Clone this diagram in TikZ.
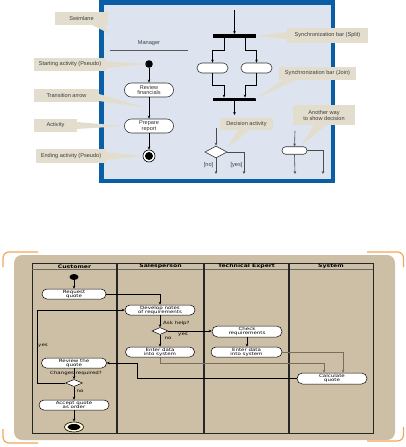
\documentclass[tikz,border=0pt]{standalone}
\usepackage{fontspec}
\setmainfont{Liberation Sans}
\newfontfamily\bfam[FakeStretch=1.28]{DejaVu Sans}
\usetikzlibrary{arrows.meta,shapes.geometric}
\definecolor{frameblue}{RGB}{10,94,166}
\definecolor{panelbg}{RGB}{221,228,240}
\definecolor{callbg}{RGB}{227,221,206}
\definecolor{calltxt}{RGB}{60,60,60}
\definecolor{tanbg}{RGB}{205,191,165}
\definecolor{bracket}{RGB}{242,166,90}
\definecolor{lgray}{RGB}{120,110,95}
\begin{document}
\begin{tikzpicture}[x=1pt,y=-1pt,
  >={Stealth[length=3pt,width=2.6pt]},
  callbox/.style={fill=callbg, inner sep=0, font=\fontsize{5.6}{6}\selectfont, text=calltxt, align=center},
  wedge/.style={fill=callbg},
  topact/.style={draw=black!80, fill=white, rounded corners=6.9pt, minimum width=49pt, minimum height=14pt, inner sep=0, font=\fontsize{5.6}{5.8}\selectfont, align=center, text=black!80, line width=0.6pt},
  smallact/.style={draw=black!80, fill=white, rounded corners=4.9pt, minimum width=31pt, minimum height=10pt, inner sep=0, line width=0.6pt},
  flow/.style={draw=black, line width=0.6pt, ->},
  gflow/.style={draw=black!70, line width=0.6pt, ->},
  bar/.style={fill=black, minimum width=43pt, minimum height=3.5pt, inner sep=0},
  toplab/.style={font=\fontsize{5.6}{6}\selectfont, text=black!75, inner sep=0},
  bact/.style={draw=black, fill=white, rounded corners=4.9pt, minimum height=10pt, inner sep=0, font=\bfam\fontsize{4.3}{4.2}\selectfont, align=center, line width=0.5pt},
  bflow/.style={draw=black, line width=0.7pt, ->},
  bgflow/.style={draw=lgray, line width=0.7pt, ->},
  lanesep/.style={draw=black!85, line width=1.1pt},
  hdr/.style={font=\bfam\bfseries\fontsize{4.8}{5}\selectfont, inner sep=0},
  blab/.style={font=\bfam\fontsize{4.3}{5}\selectfont, inner sep=0},
  bdiam/.style={diamond, draw=black, fill=white, line width=0.5pt, inner sep=0}
]
\useasboundingbox (0,0) rectangle (405,447);

% ================= TOP PANEL =================
\draw[frameblue, line width=4.5pt, fill=panelbg] (101.25,2.25) rectangle (332.75,180.75);

% Manager lane
\node[toplab] (mgr) at (149,43) {Manager};
\draw[black!65, line width=0.8pt] (110,50) -- (188,50);

% left flow
\node[circle, fill=black, minimum size=7.6pt, inner sep=0] (start) at (149,64) {};
\node[topact] (rev) at (149,90) {Review\\financials};
\node[topact] (prep) at (149,126) {Prepare\\report};
\node[circle, draw=black, fill=white, minimum size=12pt, inner sep=0, line width=0.6pt] (endo) at (149,156) {};
\node[circle, fill=black, minimum size=8pt, inner sep=0] (endi) at (149,156) {};
\draw[flow] (start) -- (rev);
\draw[flow] (rev) -- (prep);
\draw[flow] (prep) -- (endo);

% fork / join
\coordinate (forkin) at (234.5,10);
\node[bar] (split) at (234.5,36) {};
\node[smallact] (fa) at (212.5,68) {};
\node[smallact] (fb) at (256.5,68) {};
\node[bar] (join) at (234.5,99.5) {};
\coordinate (joinout) at (234.5,115);
\draw[flow] (forkin) -- (split.north);
\draw[flow] ([xshift=-10.5pt]split.south) -- ++(0,12) -| (fa.north);
\draw[flow] ([xshift=10.5pt]split.south) -- ++(0,12) -| (fb.north);
\draw[flow] (fa.south) -- ++(0,12) -| ([xshift=-10.5pt]join.north);
\draw[flow] (fb.south) -- ++(0,12) -| ([xshift=10.5pt]join.north);
\draw[flow] (join.south) -- (joinout);

% decision
\coordinate (decin) at (216,128);
\node[diamond, draw=black!80, fill=white, line width=0.6pt, minimum width=22pt, minimum height=12pt, inner sep=0] (dec) at (216,152) {};
\coordinate (decno) at (216,174);
\coordinate (decyes) at (244,174);
\draw[gflow] (decin) -- (dec.north);
\draw[gflow] (dec.south) -- (decno);
\draw[gflow] (dec.east) -| (decyes);
\node[toplab] (lno) at (208.5,165.5) {[no]};
\node[toplab] (lyes) at (236.5,165.5) {[yes]};

% another way
\coordinate (awin) at (295,131);
\node[draw=black!80, fill=white, rounded corners=3.6pt, minimum width=25pt, minimum height=7.5pt, inner sep=0, line width=0.6pt] (aw) at (294.5,150.5) {};
\coordinate (awdown) at (295,174);
\coordinate (awright) at (323,174);
\draw[gflow] (awin) -- (aw.north);
\draw[gflow] (aw.south) -- (awdown);
\draw[gflow] (aw.east) -| (awright);

% callouts (wedges then boxes)
\fill[wedge] (92,25) -- (104,25) -- (110,34) -- cycle;
\fill[wedge] (106,61) -- (106,68) -- (147,64) -- cycle;
\fill[wedge] (99,94) -- (99,101) -- (147,108) -- cycle;
\fill[wedge] (77,122) -- (77,129) -- (124,126) -- cycle;
\fill[wedge] (106,152) -- (106,160) -- (143,156) -- cycle;
\fill[wedge] (287,32) -- (287,39) -- (256,36) -- cycle;
\fill[wedge] (283,80) -- (296,80) -- (255,99) -- cycle;
\fill[wedge] (238,130) -- (250,130) -- (227,148) -- cycle;
\fill[wedge] (314,125) -- (326,125) -- (301,146) -- cycle;

\node[callbox, minimum width=53pt, minimum height=13pt] (cSwim) at (81.5,18.5) {Swimlane};
\node[callbox, minimum width=72pt, minimum height=13pt] (cStart) at (70,64.5) {Starting activity (Pseudo)};
\node[callbox, minimum width=65pt, minimum height=13pt] (cTrans) at (66.5,95.5) {Transition arrow};
\node[callbox, minimum width=43pt, minimum height=13pt] (cAct) at (55.5,125.5) {Activity};
\node[callbox, minimum width=70pt, minimum height=14pt] (cEnd) at (71,156) {Ending activity (Pseudo)};
\node[callbox, minimum width=81pt, minimum height=15pt] (cSplit) at (327.5,35.5) {Synchronization bar (Split)};
\node[callbox, minimum width=77pt, minimum height=13pt] (cJoin) at (317.5,73.5) {Synchronization bar (Join)};
\node[callbox, minimum width=53pt, minimum height=12pt] (cDec) at (246.5,124) {Decision activity};
\node[callbox, minimum width=62pt, minimum height=20pt] (cAnother) at (324,115) {Another way\\to show decision};

% ================= BOTTOM PANEL =================
\draw[bracket, line width=1.2pt, rounded corners=6pt] (38,252) -- (3,252) -- (3,267);
\draw[bracket, line width=1.2pt, rounded corners=6pt] (3,429) -- (3,443) -- (38,443);
\draw[bracket, line width=1.2pt, rounded corners=6pt] (367,252) -- (403.5,252) -- (403.5,267);
\draw[bracket, line width=1.2pt, rounded corners=6pt] (403.5,427) -- (403.5,441) -- (367,441);

\fill[tanbg, rounded corners=8pt] (14,255) rectangle (395,440);

% table
\draw[black!85, line width=0.9pt] (32,263) rectangle (373,433);
\draw[black!60, line width=0.5pt] (32,269.5) -- (373,269.5);
\draw[lanesep] (117,263) -- (117,433);
\draw[lanesep] (204,263) -- (204,433);
\draw[lanesep] (289,263) -- (289,433);
\node[hdr] (hCust) at (74.5,266.5) {Customer};
\node[hdr] (hSales) at (160.5,266.5) {Salesperson};
\node[hdr] (hTech) at (246.5,266.5) {Technical Expert};
\node[hdr] (hSys) at (331,266.5) {System};

% nodes
\node[ellipse, fill=black, minimum width=9pt, minimum height=6pt, inner sep=0] (bstart) at (74,277) {};
\node[bact, minimum width=64pt] (reqq) at (74,294) {Request\\quote};
\node[bact, minimum width=70pt] (dev) at (160,310) {Develop notes\\of requirements};
\node[bdiam, minimum width=16pt, minimum height=7pt] (d1) at (160,331) {};
\node[bact, minimum width=69pt] (ent1) at (160,352) {Enter data\\into system};
\node[bact, minimum width=70pt, minimum height=11pt, rounded corners=5.4pt] (chk) at (247,331.5) {Check\\requirements};
\node[bact, minimum width=71pt] (ent2) at (246.5,352) {Enter data\\into system};
\node[bact, minimum width=70pt, minimum height=11pt, rounded corners=5.4pt] (calc) at (332,378.5) {Calculate\\quote};
\node[bact, minimum width=65pt] (rev2) at (74,363) {Review the\\quote};
\node[bdiam, minimum width=17pt, minimum height=7pt] (d2) at (74,383) {};
\node[bact, minimum width=70pt] (acc) at (74,405) {Accept quote\\as order};
\node[ellipse, draw=black, fill=white!85!yellow, line width=0.6pt, minimum width=19pt, minimum height=10pt, inner sep=0] (bend) at (74,427) {};
\node[ellipse, fill=black, minimum width=13pt, minimum height=6pt, inner sep=0] (bendin) at (74,427) {};

% flows
\draw[bflow] (bstart) -- (reqq);
\draw[bflow] (reqq.east) -| (dev.north);
\draw[bflow] (dev) -- (d1);
\draw[bflow] (d1) -- (chk.west |- d1);
\draw[bflow] (d1) -- (ent1);
\draw[bflow] (chk.south) -- (chk.south |- ent2.north);
\draw[bgflow] (ent2.east) -| ([xshift=11pt]calc.north);
\draw[bgflow] (ent1.south) -- ++(0,6) -| ([xshift=-8pt]calc.north);
\draw[bflow] (calc.west) -- ++(-159,0) |- (rev2.east);
\draw[bflow] (rev2) -- (d2);
\draw[bflow] (d2.west) -- ++(-28,0) |- (dev.west);
\draw[bflow] (d2) -- (acc);
\draw[bflow] (acc) -- (bend);

% labels
\node[blab, anchor=west] (lask) at (163,323) {Ask help?};
\node[blab] (lyes1) at (183,334.5) {yes};
\node[blab] (lno1) at (168,338.5) {no};
\node[blab] (lchg) at (76,373.5) {Changes required?};
\node[blab] (lyes2) at (43,346) {yes};
\node[blab] (lno2) at (80,391) {no};
\end{tikzpicture}
\end{document}
